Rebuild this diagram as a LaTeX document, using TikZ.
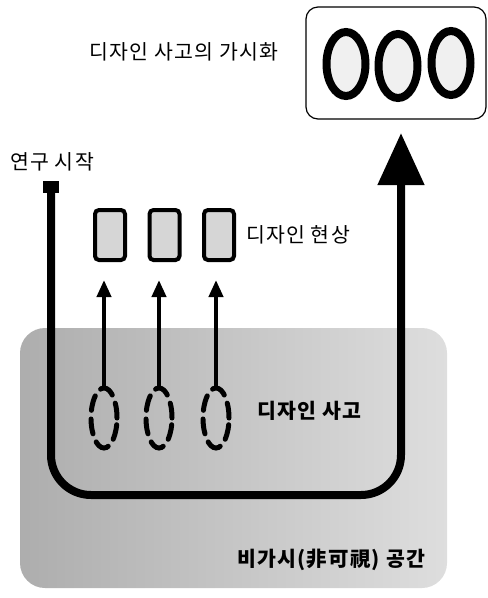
\documentclass[tikz,border=0pt]{standalone}
\usepackage{fontspec}
\newfontfamily\kr{Noto Sans CJK KR}[LetterSpace=6]
\usetikzlibrary{arrows.meta,shapes.geometric}
\tikzset{
  lbl/.style={font=\kr\fontsize{20.5}{24}\selectfont, inner sep=0pt},
  blbl/.style={font=\kr\bfseries\fontsize{20.5}{24}\selectfont, inner sep=0pt},
  bigO/.style={ellipse, draw=black, line width=8pt, fill=black!6, minimum width=39pt, minimum height=64pt, inner sep=0pt},
  phen/.style={rectangle, draw=black, line width=4pt, fill=black!16, rounded corners=4pt, minimum width=30pt, minimum height=50pt, inner sep=0pt},
  thought/.style={ellipse, draw=black, line width=5pt, dash pattern=on 15pt off 8.7pt, line cap=round, minimum width=26pt, minimum height=60pt, inner sep=0pt},
  uparrow/.style={line width=4pt, -{Triangle[length=17pt,width=14pt]}},
  mainpath/.style={line width=8pt, rounded corners=40pt, -{Triangle[length=52pt,width=45pt]}}
}
\begin{document}
\begin{tikzpicture}[x=1pt,y=-1pt]
\useasboundingbox (0,0) rectangle (488,598);
% invisible space
\node[rectangle, rounded corners=25pt, left color=black!32, right color=black!13, minimum width=427pt, minimum height=260pt, inner sep=0pt] (zone) at (233.5,458) {};
% visualisation box
\node[draw=black, line width=1.2pt, rounded corners=12pt, minimum width=180pt, minimum height=112pt, inner sep=0pt] (box) at (396,63) {};
\node[bigO] (o1) at (346,64) {};
\node[bigO] (o2) at (398,66) {};
\node[bigO] (o3) at (451,63) {};
\node[lbl] (vis) at (184,52) {디자인 사고의 가시화};
% start
\node[lbl] (startlbl) at (52,162) {연구 시작};
\node[fill=black, minimum width=16pt, minimum height=12pt, inner sep=0pt] (start) at (51,187) {};
\coordinate (br) at (401,495);
\coordinate (tip) at (401,133);
\draw[mainpath] (start.center) |- (br) -- (tip);
% phenomena
\node[phen] (r1) at (110,235) {};
\node[phen] (r2) at (164.5,235) {};
\node[phen] (r3) at (219,235) {};
\node[lbl] (phenlbl) at (298,235) {디자인 현상};
% thoughts
\node[thought] (e1) at (104,418) {};
\node[thought] (e2) at (159,418) {};
\node[thought] (e3) at (216,418) {};
\node[blbl] (thlbl) at (309,411) {디자인 사고};
\draw[uparrow] (e1.north) -- ([yshift=-18pt]e1.north |- r1.south);
\draw[uparrow] (e2.north) -- ([yshift=-18pt]e2.north |- r2.south);
\draw[uparrow] (e3.north) -- ([yshift=-18pt]e3.north |- r3.south);
\node[blbl] (zonelbl) at (331,560) {비가시(非可視) 공간};
\end{tikzpicture}
\end{document}
